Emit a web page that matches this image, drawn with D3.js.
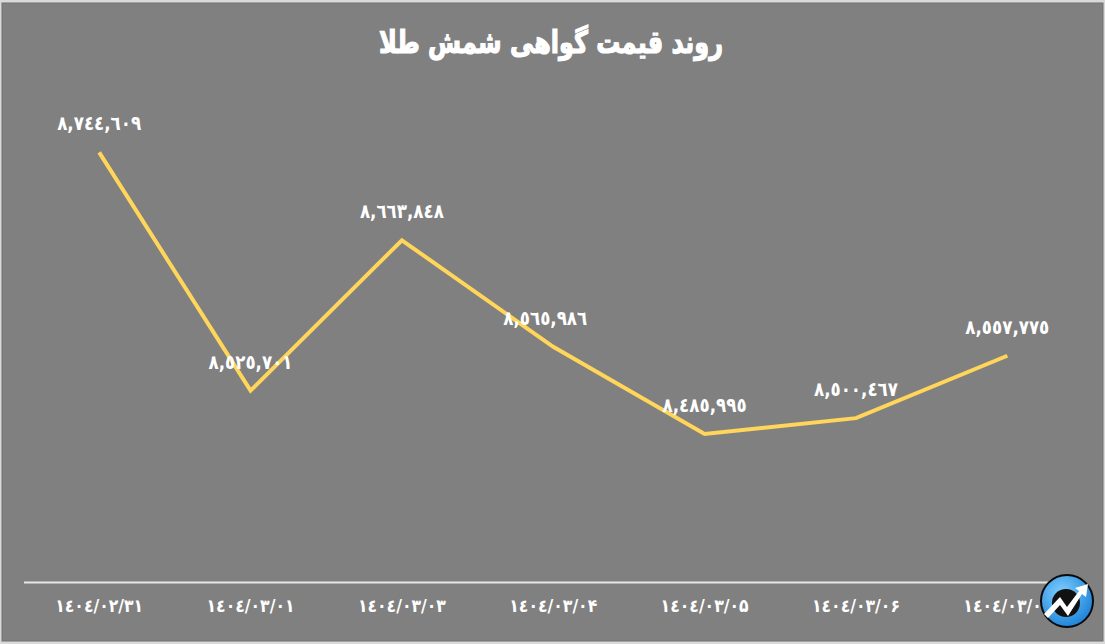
<!DOCTYPE html>
<html><head><meta charset="utf-8">
<script src="https://cdn.jsdelivr.net/npm/d3@7"></script>
<style>
html,body{margin:0;padding:0;background:#d9d9d9;}
svg{display:block;}
text{font-family:"DejaVu Sans",sans-serif;}
</style></head>
<body>
<svg id="chart" width="1105" height="644"></svg>
<script>
const title = "روند قیمت گواهی شمش طلا";
const categories = ["١٤٠٤/٠٢/٣١","١٤٠٤/٠٣/٠١","١٤٠٤/٠٣/٠٣","١٤٠٤/٠٣/۰۴","١٤٠٤/٠٣/۰۵","١٤٠٤/٠٣/۰۶","١٤٠٤/٠٣/۰۷"];
const values = [8744609, 8525701, 8663848, 8565986, 8485995, 8500467, 8557775];
const yDomain = [8350000, 8800000];

const W = 1105, H = 644;
const svg = d3.select("#chart");
const arabicDigits = "٠١٢٣٤٥٦٧٨٩";
const toAr = s => s.replace(/[0-9]/g, d => arabicDigits[+d]);
const fmt = v => toAr(d3.format(",")(v));

// background frame
svg.append("rect").attr("x",0).attr("y",0).attr("width",W).attr("height",H).attr("fill","#d9d9d9");
svg.append("rect").attr("x",2).attr("y",3).attr("width",W-4).attr("height",H-6)
  .attr("fill","#808080").attr("stroke","#707070").attr("stroke-width",1);

const x = d3.scaleBand().domain(categories).range([23.5, 1083]);
const y = d3.scaleLinear().domain(yDomain).range([582, 92]);

// title
svg.append("text").attr("x",551).attr("y",53).attr("text-anchor","middle")
  .attr("fill","#ffffff").attr("stroke","#ffffff").attr("stroke-width",1.2)
  .attr("font-size",31).attr("font-weight","bold")
  .attr("textLength",344).attr("lengthAdjust","spacingAndGlyphs")
  .attr("direction","rtl").text(title);

// x axis
const xAxis = d3.axisBottom(x).tickSize(0).tickPadding(17);
const gx = svg.append("g").attr("transform","translate(0,582)").call(xAxis);
gx.select(".domain").attr("stroke","#e6e6e6").attr("stroke-width",2);
gx.selectAll("text").attr("fill","#ffffff").attr("font-size",18).attr("font-weight","bold")
  .attr("font-family","DejaVu Sans, sans-serif").attr("direction","ltr")
  .attr("textLength",88).attr("lengthAdjust","spacingAndGlyphs");

// line
const line = d3.line().x((d,i)=>x(categories[i])+x.bandwidth()/2).y(d=>y(d));
svg.append("path").datum(values).attr("d",line).attr("fill","none")
  .attr("stroke","#ffd55a").attr("stroke-width",4).attr("stroke-linejoin","miter");

// labels
svg.selectAll("text.lbl").data(values).enter().append("text").attr("class","lbl")
  .attr("x",(d,i)=>x(categories[i])+x.bandwidth()/2 - (i===3 ? 8 : 0))
  .attr("y",d=>y(d)-22)
  .attr("text-anchor","middle").attr("fill","#ffffff").attr("font-size",20).attr("font-weight","bold")
  .attr("direction","ltr").attr("textLength",84).attr("lengthAdjust","spacingAndGlyphs")
  .text(d=>fmt(d));

// logo
const logo = svg.append("g").attr("transform","translate(1067,601)");
const defs = svg.append("defs");
const grad = defs.append("radialGradient").attr("id","lg").attr("cx","40%").attr("cy","35%").attr("r","70%");
grad.append("stop").attr("offset","0%").attr("stop-color","#7fd0ff");
grad.append("stop").attr("offset","100%").attr("stop-color","#1a7fd6");
logo.append("circle").attr("r",26).attr("fill","url(#lg)").attr("stroke","#0a0a0a").attr("stroke-width",2);
logo.append("circle").attr("r",14).attr("cx",-1).attr("cy",2).attr("fill","#111");
logo.append("path").attr("d","M-23,13 L-7,-4 L0,6 L12,-10 L8,-13 L21,-17 L19,-4 L15,-7 L1,15 L-7,4 L-19,17 Z")
  .attr("fill","#ffffff");
</script>
</body></html>
